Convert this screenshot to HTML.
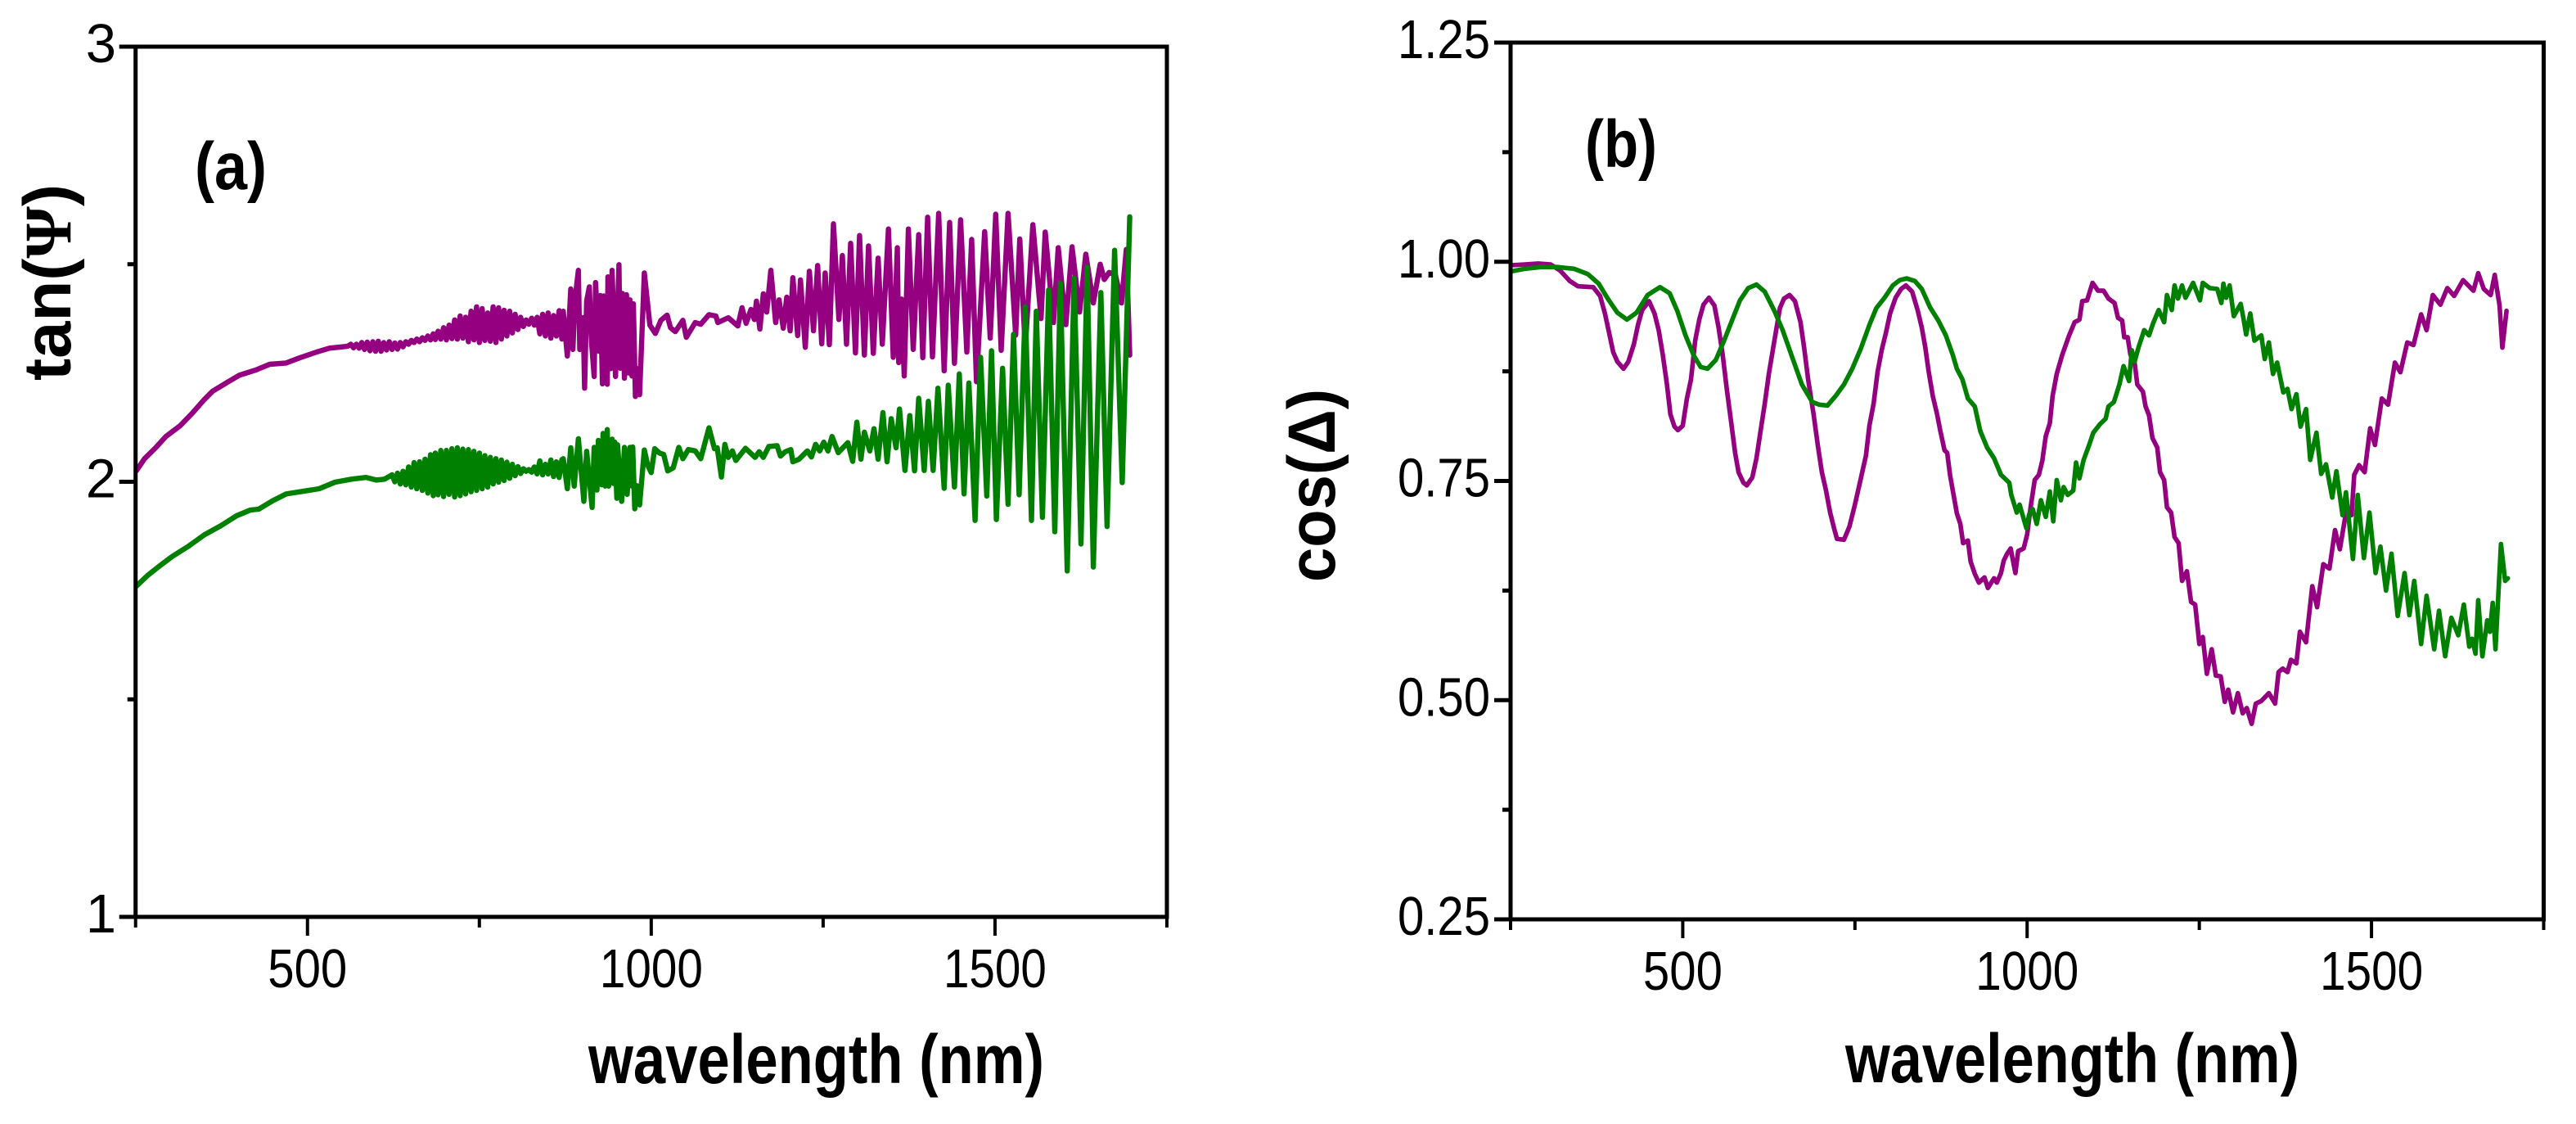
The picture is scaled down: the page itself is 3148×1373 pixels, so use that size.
<!DOCTYPE html>
<html lang="en">
<head>
<meta charset="utf-8">
<title>tan(Ψ) and cos(Δ) versus wavelength</title>
<style>
html,body{margin:0;padding:0;background:#fff;}
svg{display:block;}
text{font-family:"Liberation Sans",sans-serif;fill:#000;}
.tick{font-size:67px;}
.title{font-size:84px;font-weight:bold;}
.paneltag{font-size:82px;font-weight:bold;}
.ytitle{font-size:82px;font-weight:bold;}
.frame{fill:none;stroke:#000;stroke-width:5;}
.series{fill:none;stroke-linejoin:round;stroke-linecap:round;}
</style>
</head>
<body>
<svg id="figure" xmlns="http://www.w3.org/2000/svg" width="3148" height="1373" viewBox="0 0 3148 1373">
  <rect x="0" y="0" width="3148" height="1373" fill="#fff"/>
  <g id="panelA">
    <text class="paneltag" x="238" y="231" textLength="88" lengthAdjust="spacingAndGlyphs">(a)</text>
    <text class="title" x="719" y="1323" textLength="557" lengthAdjust="spacingAndGlyphs">wavelength (nm)</text>
    <text class="ytitle" transform="translate(86,465)" textLength="240" lengthAdjust="spacingAndGlyphs" rotate="0" id="ytitleA">tan(<tspan style="font-family:'Liberation Serif',serif">Ψ</tspan>)</text>
  </g>
  <g id="panelB">
    <text class="paneltag" x="1937" y="204" textLength="88" lengthAdjust="spacingAndGlyphs">(b)</text>
    <text class="title" x="2255" y="1322" textLength="555" lengthAdjust="spacingAndGlyphs">wavelength (nm)</text>
    <text class="ytitle" transform="translate(1631,711)" textLength="236" lengthAdjust="spacingAndGlyphs" id="ytitleB">cos(<tspan>Δ</tspan>)</text>
  </g>
</svg>
<script>
const xTicks = [250, 500, 750, 1000, 1250, 1500, 1750];
const xTickLabels = ['', '500', '', '1000', '', '1500', ''];
const yTicksA = [1, 1.5, 2, 2.5, 3];
const yTickLabelsA = ['1', '', '2', '', '3'];
const yTicksB = [0.25, 0.375, 0.5, 0.625, 0.75, 0.875, 1, 1.125, 1.25];
const yTickLabelsB = ['0.25', '', '0.50', '', '0.75', '', '1.00', '', '1.25'];

const wavelengthsMagentaA = [
251,263,279,294,315,332,350,362,383,401,
425,445,469,489,513,532,556,559,563,567,
571,575,579,583,587,591,595,599,603,607,
611,615,619,623,627,631,635,639,643,647,
651,655,659,663,667,671,675,679,683,686,
690,694,698,702,706,710,714,718,722,726,
730,734,738,742,746,750,754,758,762,766,
770,774,778,782,786,790,794,798,802,806,
810,814,818,822,826,830,834,838,842,846,
850,854,858,862,866,870,872,878,883,886,
889,894,896,901,903,906,910,913,917,919,
924,926,929,931,936,937,941,943,948,953,
955,958,961,964,967,969,972,974,977,980,
983,990,998,1006,1014,1023,1028,1035,1046,1051,
1064,1072,1084,1094,1097,1112,1126,1132,1138,1145,
1150,1153,1158,1163,1168,1174,1181,1186,1192,1197,
1202,1206,1213,1217,1224,1230,1236,1242,1248,1253,
1259,1265,1273,1278,1284,1290,1297,1303,1310,1316,
1323,1330,1336,1345,1352,1358,1360,1364,1368,1374,
1381,1389,1395,1402,1409,1418,1426,1434,1441,1450,
1459,1466,1473,1485,1493,1501,1509,1519,1530,1536,
1544,1555,1567,1573,1585,1592,1603,1612,1623,1632,
1643,1653,1659,1666,1675,1684,1691,1696];
const tanPsiMagenta = [
2.025,2.053,2.078,2.104,2.129,2.157,2.189,2.208,2.228,2.245,
2.257,2.270,2.273,2.285,2.298,2.307,2.311,2.312,2.316,2.308,
2.316,2.307,2.320,2.304,2.321,2.301,2.322,2.300,2.323,2.300,
2.320,2.303,2.322,2.304,2.319,2.305,2.320,2.310,2.322,2.316,
2.325,2.320,2.328,2.322,2.331,2.325,2.335,2.326,2.340,2.327,
2.346,2.328,2.354,2.326,2.360,2.329,2.372,2.328,2.381,2.330,
2.378,2.322,2.392,2.326,2.402,2.320,2.398,2.325,2.388,2.323,
2.402,2.320,2.400,2.328,2.394,2.335,2.392,2.342,2.385,2.350,
2.378,2.357,2.372,2.362,2.376,2.360,2.378,2.340,2.385,2.335,
2.388,2.330,2.382,2.335,2.393,2.328,2.392,2.289,2.443,2.304,
2.418,2.486,2.304,2.377,2.215,2.415,2.448,2.323,2.242,2.458,
2.300,2.428,2.225,2.427,2.224,2.471,2.260,2.486,2.242,2.499,
2.261,2.433,2.238,2.430,2.250,2.418,2.243,2.409,2.196,2.260,
2.200,2.480,2.360,2.341,2.371,2.383,2.354,2.345,2.371,2.332,
2.366,2.362,2.384,2.381,2.366,2.377,2.358,2.400,2.364,2.396,
2.373,2.415,2.351,2.432,2.390,2.486,2.366,2.418,2.353,2.424,
2.347,2.469,2.336,2.464,2.309,2.484,2.347,2.497,2.317,2.480,
2.315,2.593,2.373,2.520,2.316,2.548,2.296,2.566,2.291,2.542,
2.295,2.514,2.316,2.581,2.286,2.538,2.274,2.420,2.243,2.581,
2.304,2.568,2.285,2.608,2.287,2.617,2.255,2.596,2.272,2.602,
2.298,2.557,2.230,2.575,2.330,2.615,2.302,2.617,2.337,2.558,
2.307,2.591,2.375,2.574,2.366,2.538,2.361,2.540,2.390,2.523,
2.411,2.500,2.465,2.481,2.477,2.411,2.534,2.291];

const wavelengthsGreenA = [
251,267,282,303,327,350,374,397,417,429,
449,469,493,517,540,564,585,600,612,623,
627,631,635,639,643,647,651,655,659,663,
667,671,675,679,683,686,690,694,698,702,
706,710,714,718,722,726,730,734,738,742,
746,750,754,758,762,766,770,774,778,782,
786,790,794,798,802,806,810,814,818,822,
826,830,834,838,842,846,850,854,858,862,
866,870,872,878,883,888,894,902,906,914,
917,921,923,928,930,933,936,938,943,945,
947,950,951,957,961,965,969,972,973,976,
979,983,990,995,1000,1005,1012,1018,1024,1032,
1040,1046,1054,1064,1072,1084,1092,1096,1102,1107,
1112,1118,1123,1137,1151,1157,1163,1171,1183,1188,
1195,1203,1206,1215,1227,1233,1239,1245,1251,1257,
1263,1272,1286,1293,1299,1305,1310,1318,1324,1330,
1337,1343,1349,1356,1361,1369,1376,1383,1389,1397,
1403,1410,1417,1426,1432,1441,1448,1455,1462,1471,
1479,1488,1495,1502,1511,1519,1527,1535,1544,1553,
1560,1569,1578,1587,1595,1605,1615,1625,1634,1643,
1654,1663,1674,1685,1696];
const tanPsiGreen = [
1.760,1.784,1.803,1.828,1.852,1.878,1.899,1.922,1.935,1.937,
1.956,1.972,1.978,1.984,1.999,2.006,2.010,2.004,2.006,2.016,
2.000,2.020,1.995,2.024,1.993,2.034,1.988,2.044,1.984,2.046,
1.980,2.052,1.974,2.062,1.968,2.066,1.970,2.072,1.966,2.072,
1.971,2.076,1.965,2.078,1.968,2.075,1.972,2.074,1.977,2.070,
1.980,2.066,1.984,2.060,1.988,2.056,1.995,2.053,1.999,2.050,
2.003,2.045,2.008,2.040,2.014,2.035,2.019,2.030,2.024,2.028,
2.022,2.034,2.018,2.048,2.016,2.040,2.018,2.050,2.012,2.046,
2.010,2.051,2.053,1.984,2.078,1.990,2.099,1.955,2.070,1.941,
2.079,1.981,2.095,1.993,2.111,1.990,2.120,1.990,2.098,1.996,
2.091,1.962,2.085,1.955,2.079,1.971,2.079,1.990,2.080,1.938,
1.991,1.947,2.073,2.038,2.021,2.076,2.066,2.063,2.025,2.032,
2.079,2.053,2.074,2.071,2.053,2.124,2.076,2.078,2.011,2.086,
2.056,2.071,2.049,2.077,2.056,2.069,2.056,2.081,2.083,2.059,
2.069,2.074,2.046,2.052,2.071,2.057,2.086,2.071,2.091,2.071,
2.104,2.067,2.090,2.047,2.137,2.052,2.114,2.071,2.122,2.052,
2.159,2.046,2.145,2.078,2.167,2.026,2.152,2.025,2.192,2.026,
2.185,2.026,2.215,1.985,2.222,1.988,2.248,1.972,2.227,1.911,
2.286,1.967,2.301,1.913,2.261,1.948,2.339,1.970,2.402,1.911,
2.392,1.918,2.441,1.885,2.456,1.795,2.468,1.857,2.493,1.804,
2.435,1.897,2.532,1.998,2.609];

const wavelengthsMagentaB = [
251,271,290,308,322,336,348,370,380,387,
393,399,405,414,421,429,435,441,451,459,
465,471,477,482,488,493,500,506,512,518,
524,530,538,546,552,558,564,570,576,581,
588,593,601,607,613,619,625,633,641,647,
655,663,671,676,682,690,696,702,708,714,
720,724,734,742,750,758,766,771,777,783,
789,795,801,809,817,824,833,841,847,852,
857,863,869,874,880,884,888,893,898,903,
907,914,918,924,930,938,943,952,956,962,
966,971,976,983,987,995,1000,1005,1011,1017,
1022,1027,1033,1037,1043,1051,1061,1069,1076,1080,
1087,1095,1103,1111,1118,1127,1132,1138,1141,1146,
1150,1156,1160,1168,1172,1177,1182,1189,1193,1199,
1203,1209,1214,1220,1225,1232,1238,1244,1250,1255,
1261,1268,1274,1281,1287,1292,1299,1306,1313,1319,
1326,1332,1340,1351,1360,1365,1371,1378,1383,1391,
1396,1405,1414,1421,1430,1439,1447,1454,1463,1471,
1475,1482,1490,1498,1505,1515,1524,1534,1542,1552,
1561,1572,1580,1589,1600,1610,1620,1633,1648,1655,
1663,1673,1679,1686,1690,1696];
const cosDeltaMagenta = [
.996,.997,.998,.997,.990,.978,.972,.971,.961,.941,
.919,.897,.886,.878,.886,.906,.928,.945,.955,.941,
.922,.894,.860,.826,.812,.808,.813,.844,.866,.910,
.934,.951,.959,.950,.925,.894,.854,.819,.782,.760,
.748,.745,.754,.776,.807,.838,.872,.910,.947,.958,
.962,.955,.931,.903,.866,.826,.791,.760,.739,.714,
.695,.684,.683,.698,.723,.751,.779,.813,.838,.875,
.900,.919,.941,.959,.969,.973,.966,.945,.925,.903,
.875,.847,.827,.807,.785,.782,.757,.735,.713,.701,
.679,.682,.658,.644,.634,.640,.628,.639,.634,.645,
.659,.667,.673,.645,.670,.673,.689,.720,.751,.757,
.773,.801,.816,.847,.872,.894,.916,.931,.934,.955,
.956,.976,.967,.967,.958,.953,.936,.933,.914,.914,
.894,.885,.860,.852,.835,.825,.799,.788,.760,.751,
.720,.714,.686,.679,.636,.647,.612,.609,.564,.572,
.530,.558,.528,.527,.498,.512,.486,.508,.485,.491,
.473,.496,.499,.508,.496,.532,.536,.532,.546,.542,
.578,.566,.630,.606,.655,.650,.694,.672,.714,.711,
.757,.768,.760,.810,.791,.844,.837,.885,.874,.908,
.905,.940,.922,.962,.951,.970,.961,.979,.967,.987,
.969,.962,.985,.950,.902,.944];

const wavelengthsGreenB = [
251,271,294,318,342,362,378,391,405,419,
433,449,467,481,492,504,516,526,536,548,
560,572,583,595,607,619,633,645,659,673,
688,698,710,722,734,746,758,771,781,793,
805,815,825,837,847,859,871,882,892,898,
906,914,924,932,942,952,962,974,977,985,
989,999,1003,1008,1014,1020,1027,1033,1038,1043,
1049,1053,1059,1067,1071,1076,1082,1090,1096,1106,
1114,1118,1126,1134,1140,1148,1152,1156,1162,1170,
1177,1183,1191,1199,1203,1210,1214,1219,1225,1230,
1241,1251,1255,1265,1276,1282,1285,1289,1294,1300,
1310,1314,1318,1324,1330,1340,1345,1351,1357,1363,
1372,1378,1384,1391,1397,1405,1411,1420,1427,1434,
1443,1449,1458,1463,1473,1480,1489,1497,1506,1513,
1521,1529,1538,1548,1555,1562,1572,1580,1591,1598,
1607,1616,1626,1634,1642,1646,1651,1655,1661,1668,
1672,1676,1680,1688,1694,1698];
const cosDeltaGreen = [
.989,.992,.994,.994,.992,.986,.975,.958,.942,.934,
.942,.962,.971,.964,.944,.916,.893,.880,.878,.888,
.910,.934,.956,.970,.974,.966,.944,.922,.891,.860,
.840,.837,.836,.847,.860,.878,.900,.928,.947,.959,
.973,.979,.981,.978,.969,.948,.933,.916,.894,.878,
.866,.844,.835,.807,.788,.776,.757,.748,.734,.714,
.723,.696,.712,.718,.701,.728,.709,.738,.704,.751,
.728,.743,.734,.739,.771,.753,.774,.791,.805,.815,
.821,.835,.840,.860,.881,.864,.899,.886,.903,.922,
.916,.930,.945,.931,.962,.945,.973,.958,.973,.959,
.976,.956,.976,.970,.969,.953,.975,.959,.973,.938,
.952,.936,.917,.941,.910,.916,.889,.908,.872,.885,
.851,.855,.832,.849,.812,.832,.774,.805,.758,.769,
.731,.761,.711,.737,.661,.734,.662,.714,.645,.675,
.625,.667,.596,.645,.597,.636,.564,.619,.558,.602,
.550,.594,.574,.609,.561,.570,.553,.614,.550,.591,
.578,.611,.558,.678,.636,.639];

const SVG_NS = 'http://www.w3.org/2000/svg';

function linear(d0, d1, r0, r1) {
  return function (v) { return r0 + (v - d0) * (r1 - r0) / (d1 - d0); };
}

const panelA = { left: 165.7, right: 1426, top: 57, bottom: 1120 };
const panelB = { left: 1846, right: 3108.5, top: 52, bottom: 1123 };
const xScaleA = linear(250, 1750, panelA.left, panelA.right);
const yScaleA = linear(1, 3, panelA.bottom, panelA.top);
const xScaleB = linear(250, 1750, panelB.left, panelB.right);
const yScaleB = linear(0.25, 1.25, panelB.bottom, panelB.top);

function make(tag, parent, attrs) {
  const node = document.createElementNS(SVG_NS, tag);
  Object.keys(attrs).forEach(function (k) { node.setAttribute(k, attrs[k]); });
  parent.appendChild(node);
  return node;
}

function drawFrame(parent, box, key) {
  const rect = make('rect', parent, {
    'class': 'frame', x: box.left, y: box.top,
    width: box.right - box.left, height: box.bottom - box.top
  });
  
  
}

function drawXAxis(parent, box, scale, baseline, key) {
  xTicks.forEach(function (t, i) {
    const x = scale(t);
    const major = xTickLabels[i] !== '';
    const tick = make('line', parent, {
      x1: x, x2: x, y1: box.bottom, y2: box.bottom + (major ? 23 : 13),
      stroke: '#000', 'stroke-width': 4
    });
    
    
    if (major) {
      const label = make('text', parent, {
        'class': 'tick', x: x, y: baseline, 'text-anchor': 'middle',
        textLength: xTickLabels[i].length === 3 ? 97 : 126, lengthAdjust: 'spacingAndGlyphs'
      });
      label.textContent = xTickLabels[i];
      
      
    }
  });
}

function drawYAxis(parent, box, ticks, labels, scale, labelRight, key) {
  ticks.forEach(function (t, i) {
    const y = scale(t);
    const major = labels[i] !== '';
    const tick = make('line', parent, {
      x1: box.left - (major ? 20 : 10), x2: box.left, y1: y, y2: y,
      stroke: '#000', 'stroke-width': 5
    });
    
    
    if (major) {
      const attrs = { 'class': 'tick', x: labelRight, y: y + 19, 'text-anchor': 'end' };
      if (labels[i].length > 1) {
        attrs.textLength = 113;
        attrs.lengthAdjust = 'spacingAndGlyphs';
      }
      const label = make('text', parent, attrs);
      label.textContent = labels[i];
      
      
    }
  });
}

function drawSeries(parent, xs, ys, xScale, yScale, color, width, name) {
  const n = Math.min(xs.length, ys.length);
  let d = '';
  for (let i = 0; i < n; i++) {
    d += (i ? 'L' : 'M') + xScale(xs[i]).toFixed(1) + ' ' + yScale(ys[i]).toFixed(1);
  }
  const path = make('path', parent, { 'class': 'series', d: d, stroke: color, 'stroke-width': width });
  
  
}

const groupA = document.getElementById('panelA');
const groupB = document.getElementById('panelB');

document.getElementById('ytitleA').setAttribute('transform', 'translate(86,465) rotate(-90)');
document.getElementById('ytitleB').setAttribute('transform', 'translate(1631,711) rotate(-90)');

drawSeries(groupA, wavelengthsMagentaA, tanPsiMagenta, xScaleA, yScaleA, '#950080', 6.4, 'series-magenta-a');
drawSeries(groupA, wavelengthsGreenA, tanPsiGreen, xScaleA, yScaleA, '#008000', 6.4, 'series-green-a');
drawFrame(groupA, panelA, 'a');
drawXAxis(groupA, panelA, xScaleA, 1206, 'a');
drawYAxis(groupA, panelA, yTicksA, yTickLabelsA, yScaleA, 142, 'a');

drawSeries(groupB, wavelengthsMagentaB, cosDeltaMagenta, xScaleB, yScaleB, '#950080', 5.6, 'series-magenta-b');
drawSeries(groupB, wavelengthsGreenB, cosDeltaGreen, xScaleB, yScaleB, '#008000', 5.6, 'series-green-b');
drawFrame(groupB, panelB, 'b');
drawXAxis(groupB, panelB, xScaleB, 1209, 'b');
drawYAxis(groupB, panelB, yTicksB, yTickLabelsB, yScaleB, 1821, 'b');
</script>
</body>
</html>
